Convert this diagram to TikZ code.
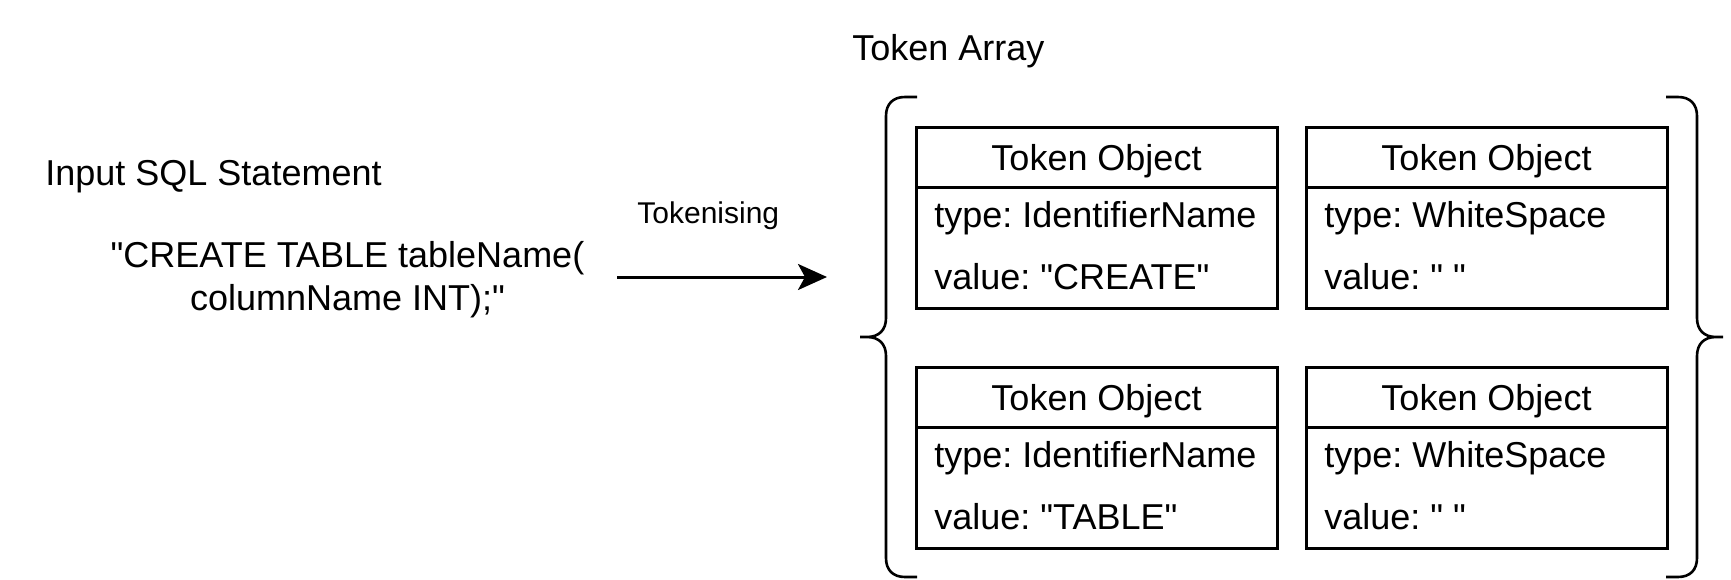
\documentclass[tikz,border=0pt]{standalone}
\usepackage{fontspec}
\setmainfont{Liberation Sans}[Ligatures=TeXOff]
\usetikzlibrary{arrows.meta}
\newcommand{\dq}{\symbol{34}}
\begin{document}
\frenchspacing
\begin{tikzpicture}[x=0.5pt,y=-0.5pt,
  big/.style={font=\fontsize{18}{21.5}\selectfont, inner sep=0pt},
  small/.style={font=\fontsize{15}{18}\selectfont, inner sep=0pt},
  hdr/.style={draw, line width=1.5pt, minimum width=180.5pt, minimum height=30pt, inner sep=0pt, text height=13pt, text depth=0pt, font=\fontsize{18}{21.5}\selectfont},
  bodybox/.style={draw, line width=1.5pt, minimum width=180.5pt, minimum height=60.5pt, inner sep=0pt},
  field/.style={big, anchor=base west},
  brace/.style={line width=1.3pt},
  flow/.style={line width=1.5pt, -{Stealth[length=14.5pt,width=13pt,inset=3.5pt]}}
]
\useasboundingbox (0,0) rectangle (1731,579);

% left side texts
\node[big, anchor=base west] (title) at (45,185) {Input SQL Statement};
\node[big, align=center] (sql) at (347.5,280) {\dq CREATE TABLE tableName(\\columnName INT);\dq};
\node[small, anchor=base west] (tok) at (637,223) {Tokenising};
\node[big, anchor=base west] (arr) at (852,60) {Token Array};

% arrow
\coordinate (aS) at (617,277);
\coordinate (aE) at (827,277);
\draw[flow] (aS) -- (aE);

% token boxes
\node[hdr] (h1) at (1096.5,157) {Token Object};
\node[bodybox] (b1) at (1096.5,247.5) {};
\node[field] (t1) at (934,227) {type: IdentifierName};
\node[field] (v1) at (934,289) {value: \dq CREATE\dq};

\node[hdr] (h2) at (1486.5,157) {Token Object};
\node[bodybox] (b2) at (1486.5,247.5) {};
\node[field] (t2) at (1324,227) {type: WhiteSpace};
\node[field] (v2) at (1324,289) {value: \dq\ \dq};

\node[hdr] (h3) at (1096.5,397) {Token Object};
\node[bodybox] (b3) at (1096.5,487.5) {};
\node[field] (t3) at (934,467) {type: IdentifierName};
\node[field] (v3) at (934,529) {value: \dq TABLE\dq};

\node[hdr] (h4) at (1486.5,397) {Token Object};
\node[bodybox] (b4) at (1486.5,487.5) {};
\node[field] (t4) at (1324,467) {type: WhiteSpace};
\node[field] (v4) at (1324,529) {value: \dq\ \dq};

% braces
\draw[brace] (917,97) -- (905,97) .. controls (893,97) and (886,104) .. (886,116)
  -- (886,318) .. controls (886,330) and (879,337) .. (867,337) -- (860,337)
  -- (867,337) .. controls (879,337) and (886,344) .. (886,356)
  -- (886,558) .. controls (886,570) and (893,577) .. (905,577) -- (917,577);
\draw[brace] (1666,97) -- (1678,97) .. controls (1690,97) and (1697,104) .. (1697,116)
  -- (1697,318) .. controls (1697,330) and (1704,337) .. (1716,337) -- (1723,337)
  -- (1716,337) .. controls (1704,337) and (1697,344) .. (1697,356)
  -- (1697,558) .. controls (1697,570) and (1690,577) .. (1678,577) -- (1666,577);
\end{tikzpicture}
\end{document}
